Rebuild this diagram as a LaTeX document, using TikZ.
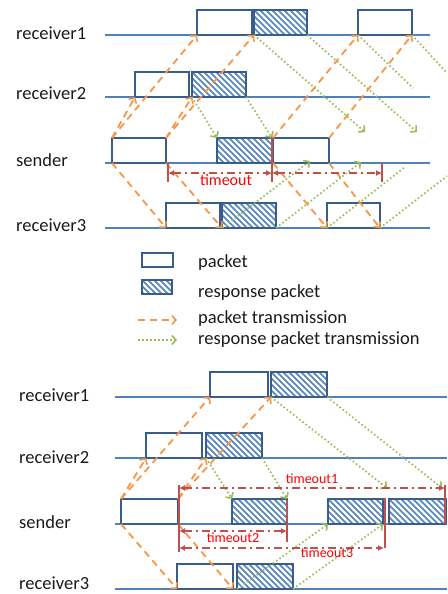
\documentclass[tikz,border=0pt]{standalone}
\usepackage{fontspec}
\setmainfont{Carlito}
\usetikzlibrary{arrows.meta}
\definecolor{laneblue}{HTML}{4F81BD}
\definecolor{boxblue}{HTML}{385D8A}
\definecolor{hatchblue}{HTML}{4F81BD}
\definecolor{pktorange}{HTML}{F79646}
\definecolor{respgreen}{HTML}{9BBB59}
\definecolor{tmored}{HTML}{C0504D}
\definecolor{tmotext}{HTML}{FF0000}
\definecolor{labeltext}{HTML}{1A1A1A}
\tikzset{
  lane/.style={draw=laneblue, line width=1.8pt},
  pkt/.style={draw=boxblue, line width=1.9pt, fill=white, inner sep=0pt, outer sep=0pt,
    minimum height=25pt, anchor=south west},
  resp/.style={pkt, path picture={
      \foreach \k in {-6,...,12}
        \draw[hatchblue, line width=1.7pt]
          ([xshift=\k*6pt]path picture bounding box.north west) -- ++(30pt,-30pt);}},
  ptx/.style={draw=pktorange, line width=1.8pt, dash pattern=on 7pt off 5pt,
    -{Straight Barb[length=4pt,width=9pt,line width=1.6pt]}},
  rtxline/.style={draw=respgreen, line width=1.7pt, dash pattern=on 1.6pt off 2.4pt},
  rtx/.style={rtxline, -{Straight Barb[length=4pt,width=9pt,line width=1.6pt]}},
  tmo/.style={draw=tmored, line width=1.6pt, dash pattern=on 8pt off 4pt on 2pt off 4pt,
    {Latex[length=6pt,width=6pt]}-{Latex[length=6pt,width=6pt]}},
  tbar/.style={draw=tmored, line width=1.6pt},
  lbl/.style={anchor=west, text=labeltext, inner sep=0pt, font=\fontsize{18.5}{21}\selectfont},
  tlbl/.style={text=tmotext, inner sep=0pt},
}
\begin{document}
\begin{tikzpicture}[x=1pt,y=-1pt]
\useasboundingbox (0,0) rectangle (447,594);

% ---------------- upper scenario ----------------
\node[lbl] (la1) at (16,33) {receiver1};
\node[lbl] (la2) at (16,93) {receiver2};
\node[lbl] (la3) at (16,160) {sender};
\node[lbl] (la4) at (16,225) {receiver3};

\draw[lane] (105,35) -- (430,35);
\draw[lane] (105,97) -- (430,97);
\draw[lane] (105,163) -- (430,163);
\draw[lane] (105,228) -- (430,228);

\node[pkt, minimum width=55pt] (ar1p) at (197,35) {};
\node[resp, minimum width=53pt] (ar1r) at (254,35) {};
\node[pkt, minimum width=54pt] (ar1q) at (358,35) {};
\node[pkt, minimum width=54pt] (ar2p) at (135,97) {};
\node[resp, minimum width=54pt] (ar2r) at (192,97) {};
\node[pkt, minimum width=54pt] (asp) at (112,163) {};
\node[resp, minimum width=55pt] (asr) at (217,163) {};
\node[pkt, minimum width=56pt] (asq) at (273,163) {};
\node[pkt, minimum width=54pt] (ar3p) at (166,228) {};
\node[resp, minimum width=54pt] (ar3r) at (222,228) {};
\node[pkt, minimum width=53pt] (ar3q) at (327,228) {};

% packet transmissions
\draw[ptx] (asp.north west) -- (ar2p.south west);
\draw[ptx] (asp.north west) -- (ar1p.south west);
\draw[ptx] (asp.north east) -- (ar2r.south west);
\draw[ptx] (asp.north east) -- (ar1r.south west);
\draw[ptx] (asq.north west) -- (ar1q.south west);
\draw[ptx] (asq.north east) -- (ar1q.south east);
\draw[ptx] (asp.south west) -- (ar3p.south west);
\draw[ptx] (asp.south east) -- (ar3r.south west);
\draw[ptx] (asq.south west) -- (ar3q.south west);
\draw[ptx] (asq.south east) -- (ar3q.south east);

% response transmissions
\coordinate (ag1) at (365,132);
\coordinate (ag2) at (417,132);
\coordinate (ag3) at (413,88);
\coordinate (ag4) at (447,73);
\coordinate (ag5) at (310,161);
\coordinate (ag6) at (361,162);
\coordinate (ag7) at (405,167);
\coordinate (ag8) at (447,176);
\draw[rtx] (ar2r.south west) -- (asr.north west);
\draw[rtx] (ar2r.south east) -- (asr.north east);
\draw[rtx] (ar1r.south west) -- (ag1);
\draw[rtx] (ar1r.south east) -- (ag2);
\draw[rtxline] (ar1q.south west) -- (ag3);
\draw[rtxline] (ar1q.south east) -- (ag4);
\draw[rtx] (ar3r.south west) -- (ag5);
\draw[rtx] (ar3r.south east) -- (ag6);
\draw[rtxline] (ar3q.south west) -- (ag7);
\draw[rtxline] (ar3q.south east) -- (ag8);

% timeout
\coordinate (at0t) at (168,163);
\coordinate (at0b) at (168,182);
\coordinate (at1t) at (272,137);
\coordinate (at1b) at (272,182);
\coordinate (at2t) at (382,163);
\coordinate (at2b) at (382,182);
\coordinate (at0) at (168,173);
\coordinate (at1) at (272,173);
\coordinate (at2) at (382,173);
\draw[tbar] (at0t) -- (at0b);
\draw[tbar] (at1t) -- (at1b);
\draw[tbar] (at2t) -- (at2b);
\draw[tmo] (at0) -- (at1);
\draw[tmo] (at1) -- (at2);
\node[tlbl, font=\fontsize{16}{19}\selectfont] (atl) at (226,180) {timeout};

% ---------------- legend ----------------
\node[pkt, minimum width=31pt, minimum height=14pt, line width=1.6pt] (kp) at (142,267) {};
\node[resp, minimum width=30pt, minimum height=14pt, line width=1.6pt] (kr) at (142,294) {};
\coordinate (ko1) at (138,320);
\coordinate (ko2) at (177,320);
\coordinate (kg1) at (138,340);
\coordinate (kg2) at (177,340);
\draw[ptx] (ko1) -- (ko2);
\draw[rtx] (kg1) -- (kg2);
\node[lbl] (kt1) at (198,263) {packet};
\node[lbl] (kt2) at (198,293) {response packet};
\node[lbl] (kt3) at (198,319) {packet transmission};
\node[lbl] (kt4) at (198,340) {response packet transmission};

% ---------------- lower scenario ----------------
\node[lbl] (lb1) at (19,395) {receiver1};
\node[lbl] (lb2) at (19,457) {receiver2};
\node[lbl] (lb3) at (19,522) {sender};
\node[lbl] (lb4) at (19,583) {receiver3};

\draw[lane] (115,397) -- (447,397);
\draw[lane] (115,458) -- (447,458);
\draw[lane] (115,524) -- (447,524);
\draw[lane] (115,589) -- (447,589);

\node[pkt, minimum width=58pt] (br1p) at (210,397) {};
\node[resp, minimum width=56pt] (br1r) at (271,397) {};
\node[pkt, minimum width=56pt] (br2p) at (146,458) {};
\node[resp, minimum width=56pt] (br2r) at (206,458) {};
\node[pkt, minimum width=57pt] (bsp) at (121,524) {};
\node[resp, minimum width=55pt] (bsr1) at (232,524) {};
\node[resp, minimum width=55pt] (bsr2) at (328,524) {};
\node[resp, minimum width=57pt] (bsr3) at (389,524) {};
\node[pkt, minimum width=56pt] (br3p) at (177,589) {};
\node[resp, minimum width=56pt] (br3r) at (237,589) {};

% packet transmissions
\draw[ptx] (bsp.north west) -- (br2p.south west);
\draw[ptx] (bsp.north west) -- (br1p.south west);
\draw[ptx] (bsp.north east) -- (br2r.south west);
\draw[ptx] (bsp.north east) -- (br1r.south west);
\draw[ptx] (bsp.south west) -- (br3p.south west);
\draw[ptx] (bsp.south east) -- (br3p.south east);

% response transmissions
\coordinate (bg1) at (387,488);
\coordinate (bg2) at (442,488);
\draw[rtx] (br2r.south west) -- (bsr1.north west);
\draw[rtx] (br2r.south east) -- (bsr1.north east);
\draw[rtx] (br1r.south west) -- (bg1);
\draw[rtx] (br1r.south east) -- (bg2);
\draw[rtx] (br3r.south west) -- (bsr2.south west);
\draw[rtx] (br3r.south east) -- (bsr2.south east);

% timeouts
\coordinate (bt0t) at (179,485);
\coordinate (bt0b) at (179,552);
\coordinate (bt1t) at (445,485);
\coordinate (bt1b) at (445,524);
\coordinate (bt2t) at (287,500);
\coordinate (bt2b) at (287,542);
\coordinate (bt3t) at (385,498);
\coordinate (bt3b) at (385,548);
\draw[tbar] (bt0t) -- (bt0b);
\draw[tbar] (bt1t) -- (bt1b);
\draw[tbar] (bt2t) -- (bt2b);
\draw[tbar] (bt3t) -- (bt3b);
\coordinate (bt1s) at (179,488);
\coordinate (bt1e) at (445,488);
\coordinate (bt2s) at (179,531);
\coordinate (bt2e) at (287,531);
\coordinate (bt3s) at (179,548);
\coordinate (bt3e) at (384,548);
\draw[tmo] (bt1s) -- (bt1e);
\draw[tmo] (bt2s) -- (bt2e);
\draw[tmo] (bt3s) -- (bt3e);
\node[tlbl, font=\fontsize{14}{17}\selectfont] (btl1) at (312,479) {timeout1};
\node[tlbl, font=\fontsize{14}{17}\selectfont] (btl2) at (233,538) {timeout2};
\node[tlbl, font=\fontsize{14}{17}\selectfont] (btl3) at (327,553) {timeout3};
\end{tikzpicture}
\end{document}
